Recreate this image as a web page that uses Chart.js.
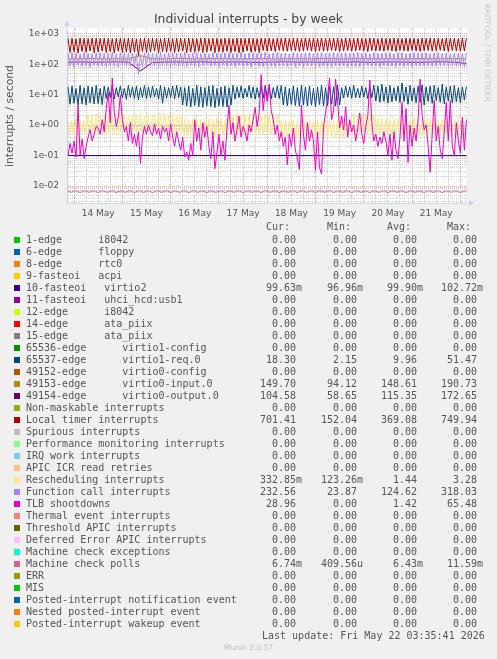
<!DOCTYPE html>
<html>
<head>
<meta charset="utf-8">
<title>Individual interrupts - by week</title>
<script src="https://cdn.jsdelivr.net/npm/chart.js@4.4.1/dist/chart.umd.min.js"></script>
<style>
  body { margin: 0; background: #f0f0f0; }
  #wrap { position: relative; width: 497px; height: 659px; overflow: hidden; background: #f0f0f0; }
  #chart { position: absolute; left: 0; top: 0; }
  .txt { position: absolute; white-space: pre; }
  #title { left: 0; top: 11px; width: 497px; text-align: center; font: 12.4px 'DejaVu Sans'; line-height: 16px; color: #444; }
  #ylabel { left: -90px; top: 108.6px; width: 200px; text-align: center; font: 10.8px 'DejaVu Sans'; line-height: 14px; color: #555; transform: rotate(-90deg); }
  #brand { left: 427px; top: 48px; width: 120px; text-align: center; font: 7.6px 'DejaVu Sans'; line-height: 10px; color: #c4c4c4; transform: rotate(90deg); }
  .mono { font: 10px 'DejaVu Sans Mono'; line-height: 12px; color: #555; }
  .sw { position: absolute; width: 6px; height: 6px; }
  #munin { left: 0; top: 643px; width: 497px; text-align: center; font: 7.5px 'DejaVu Sans'; line-height: 10px; color: #c0c0c0; }
</style>
</head>
<body>
<div id="wrap">
  <canvas id="chart" width="497" height="225"></canvas>
  <div id="title" class="txt">Individual interrupts - by week</div>
  <div id="ylabel" class="txt">interrupts / second</div>
  <div id="brand" class="txt">RRDTOOL / TOBI OETIKER</div>
  <div id="legend"></div>
  <div id="munin" class="txt">Munin 2.0.57</div>
</div>
<script>
// legend rows (same order as munin prints them)
const rowNames = [
  '1-edge      i8042', '6-edge      floppy', '8-edge      rtc0', '9-fasteoi   acpi',
  '10-fasteoi   virtio2', '11-fasteoi   uhci_hcd:usb1', '12-edge      i8042',
  '14-edge      ata_piix', '15-edge      ata_piix', '65536-edge      virtio1-config',
  '65537-edge      virtio1-req.0', '49152-edge      virtio0-config',
  '49153-edge      virtio0-input.0', '49154-edge      virtio0-output.0',
  'Non-maskable interrupts', 'Local timer interrupts', 'Spurious interrupts',
  'Performance monitoring interrupts', 'IRQ work interrupts', 'APIC ICR read retries',
  'Rescheduling interrupts', 'Function call interrupts', 'TLB shootdowns',
  'Thermal event interrupts', 'Threshold APIC interrupts', 'Deferred Error APIC interrupts',
  'Machine check exceptions', 'Machine check polls', 'ERR', 'MIS',
  'Posted-interrupt notification event', 'Nested posted-interrupt event',
  'Posted-interrupt wakeup event'
];
const rowColors = [
  '#00CC00', '#0066B3', '#FF8000', '#FFCC00', '#330099', '#990099', '#CCFF00', '#FF0000',
  '#808080', '#008F00', '#00487D', '#B35A00', '#B38F00', '#6B006B', '#8FB300', '#B30000',
  '#BEBEBE', '#80FF80', '#80C9FF', '#FFC080', '#FFE680', '#AA80FF', '#EE00CC', '#FF8080',
  '#666600', '#FFBFFF', '#00FFCC', '#CC6699', '#999900', '#00CC00', '#0066B3', '#FF8000',
  '#FFCC00'
];
const curVals = ['0.00','0.00','0.00','0.00','99.63m','0.00','0.00','0.00','0.00','0.00','18.30','0.00',
  '149.70','104.58','0.00','701.41','0.00','0.00','0.00','0.00','332.85m','232.56','28.96','0.00',
  '0.00','0.00','0.00','6.74m','0.00','0.00','0.00','0.00','0.00'];
const minVals = ['0.00','0.00','0.00','0.00','96.96m','0.00','0.00','0.00','0.00','0.00','2.15','0.00',
  '94.12','58.65','0.00','152.04','0.00','0.00','0.00','0.00','123.26m','23.87','0.00','0.00',
  '0.00','0.00','0.00','409.56u','0.00','0.00','0.00','0.00','0.00'];
const avgVals = ['0.00','0.00','0.00','0.00','99.90m','0.00','0.00','0.00','0.00','0.00','9.96','0.00',
  '148.61','115.35','0.00','369.08','0.00','0.00','0.00','0.00','1.44','124.62','1.42','0.00',
  '0.00','0.00','0.00','6.43m','0.00','0.00','0.00','0.00','0.00'];
const maxVals = ['0.00','0.00','0.00','0.00','102.72m','0.00','0.00','0.00','0.00','0.00','51.47','0.00',
  '190.73','172.65','0.00','749.94','0.00','0.00','0.00','0.00','3.28','318.03','65.48','0.00',
  '0.00','0.00','0.00','11.59m','0.00','0.00','0.00','0.00','0.00'];
const lastUpdate = 'Last update: Fri May 22 03:35:41 2026';

// x axis: hours from 14 May 00:00
const xMin = -3.5, xMax = 195.3;
const dayTickLabels = ['14 May', '15 May', '16 May', '17 May', '18 May', '19 May', '20 May', '21 May'];

// series (hourly unless noted)
const timerVals = [
  690,240,705,255,680,230,715,260,700,245,690,270,720,235,705,250,695,265,710,240,
  700,255,685,230,715,265,700,240,690,250,720,235,705,250,680,190,700,260,715,240,
  695,250,710,265,700,235,690,255,720,245,705,260,685,240,710,250,700,270,690,235,
  715,255,700,245,690,260,705,240,720,250,695,265,710,235,700,255,685,245,715,260,
  700,240,690,255,710,235,705,250,695,270,720,245,700,260,690,240,710,280,700,265,
  715,275,690,260,705,285,700,270,720,265,695,280,710,270,700,260,690,275,715,285,
  700,270,705,260,690,280,720,265,700,275,695,285,710,270,705,260,690,275,715,280,
  700,265,690,275,710,285,700,270,695,260,720,280,705,270,690,275,710,265,700,285,
  695,270,715,260,700,280,690,275,710,265,705,285,700,270,690,260,715,275,700,280,
  710,265,695,275,700,285,690,270,715,260,705,280,700,275,690,265,710,270,701
];
const funcCallVals = [
  225,88,240,82,230,95,215,85,245,90,230,80,220,92,235,85,240,88,225,82,
  230,90,245,85,220,80,235,92,240,86,225,84,230,88,215,45,200,82,235,90,
  240,85,225,88,230,82,245,90,220,86,235,80,240,92,225,85,230,88,245,84,
  220,90,235,86,240,82,225,88,230,95,215,85,240,90,230,80,225,92,235,85,
  240,88,225,82,230,90,245,85,220,88,235,80,240,92,225,86,230,84,245,90,
  220,86,235,82,240,88,225,90,230,85,215,92,240,84,230,88,225,82,235,90,
  238,87,222,90,232,84,242,88,218,85,236,82,244,90,228,86,226,90,240,83,
  224,88,232,85,244,84,222,90,234,92,218,86,238,88,232,82,228,90,236,86,
  242,86,220,84,232,88,240,83,224,90,230,82,238,90,228,88,234,86,240,88,
  222,84,236,85,238,90,228,88,232,84,218,90,236,86,230,86,226,84,233
];
const virtio1ReqVals = [
  18,4.8,19,5.2,16,4.5,20,5.0,17,4.6,19,5.4,18,4.9,20,5.1,16,4.7,19,7.5,
  18,8.0,20,7.2,17,8.5,19,7.8,16,7.0,20,8.2,18,7.5,19,6.8,17,8.0,20,7.4,
  18,7.8,19,8.4,16,7.1,20,5.2,18,7.6,17,8.0,19,7.3,20,7.9,18,4.5,17,4.2,
  19,3.9,16,4.4,20,4.0,18,3.8,17,4.3,19,4.1,20,3.7,16,4.2,18,4.0,19,3.9,
  17,4.5,20,7.2,18,8.0,19,7.5,16,8.3,20,7.7,18,7.1,17,8.1,19,7.6,20,8.4,
  18,7.3,17,8.0,19,7.5,20,4.6,18,4.3,16,4.8,19,4.4,17,4.1,20,4.6,18,4.2,
  19,4.5,16,4.0,18,4.7,20,4.3,17,4.4,19,4.9,18,4.2,20,4.6,17,7.8,19,8.3,
  18,7.6,20,8.1,16,7.9,19,8.4,17,7.4,18,8.0,20,6.2,19,5.6,22,6.0,18,5.3,
  20,5.8,17,6.3,19,5.5,24,5.9,18,4.8,20,6.1,17,5.4,19,5.7,21,4.6,18,6.0,
  19,5.2,20,6.4,17,5.6,22,5.0,18,6.2,19,5.3,20,5.9,17,5.5,18,6.8,18.3
];
const reschedVals = [
  1.5,0.45,1.4,0.5,1.6,0.42,1.5,0.48,1.5,0.5,2.2,0.55,2.1,0.48,2.3,0.52,2.2,0.5,2.1,0.46,
  2.2,0.53,2.3,0.5,2.1,0.47,2.2,0.55,2.3,0.5,2.1,0.52,2.2,0.48,2.3,0.5,2.2,0.54,2.1,0.49,
  2.2,0.51,2.3,0.47,2.2,0.53,2.1,0.5,2.3,0.48,2.2,0.52,2.1,0.5,2.2,0.47,2.2,0.45,1.6,0.42,
  1.5,0.47,1.6,0.44,1.7,0.46,1.5,0.43,1.6,0.48,1.6,0.45,1.5,0.42,1.7,0.46,1.6,0.44,1.5,0.47,
  2.3,0.5,2.2,0.53,2.4,0.48,2.3,0.52,2.2,0.5,2.3,0.55,2.4,0.49,2.2,0.51,2.3,0.48,2.3,0.53,
  2.2,0.5,2.4,0.47,2.3,0.42,1.5,0.4,1.4,0.38,1.6,0.41,1.5,0.36,1.4,0.4,1.5,0.39,1.6,0.37,
  1.5,0.41,1.4,0.38,1.5,0.4,1.6,0.35,1.5,0.39,1.4,0.42,1.5,0.37,1.6,0.4,1.5,0.38,1.4,0.41,
  1.5,0.39,2.3,0.5,2.2,0.52,2.4,0.48,2.3,0.5,2.2,0.53,2.3,0.49,1.6,0.45,1.7,0.43,1.6,0.46,
  1.5,0.44,1.6,0.47,1.7,0.42,1.6,0.45,1.5,0.48,1.6,0.44,1.7,0.46,1.6,0.43,1.5,0.47,1.6,0.45,
  1.7,0.42,1.6,0.46,1.5,0.44,1.6,0.47,1.7,0.43,1.6,0.45,1.5,0.48,1.6,0.44,1.7,0.42,0.333
];
const tlbVals = [
  0.1,0.25,0.12,0.3,0.09,4.5,0.1,0.35,0.08,0.2,0.4,0.7,0.3,0.5,0.9,0.8,0.5,1.5,0.6,3.5,
  12,1.2,35,2.5,0.9,1.8,9.5,1.5,0.6,0.9,0.3,1.2,0.25,0.5,0.2,0.6,0.055,0.4,0.9,0.5,
  1.0,0.6,0.45,1.1,0.5,0.8,0.35,0.9,0.6,0.8,0.3,1.1,0.4,0.2,0.6,0.3,0.15,0.4,0.09,0.13,
  0.07,0.25,0.1,1.5,0.3,0.8,0.15,1.2,0.4,0.9,0.2,0.08,0.6,0.037,0.12,0.5,0.1,0.3,0.07,0.8,
  4.5,0.5,1.2,0.3,0.7,2.0,0.4,0.9,0.6,0.3,1.0,0.6,1.5,3.8,0.9,2.5,45,3,15,6,
  22,3,1.5,0.5,1.0,0.3,0.6,0.2,0.4,0.05,0.5,0.2,0.8,0.15,0.08,0.035,4.5,0.5,0.15,1.2,
  0.3,0.7,0.3,0.033,0.6,0.04,0.025,0.9,2.5,8,35,1.5,3,32,6,0.8,2,0.7,4,0.4,
  1.5,0.6,1.0,0.3,0.8,2.5,0.5,0.25,0.9,2,30,1.2,0.3,0.5,0.2,0.4,0.25,0.6,0.3,0.1,
  0.5,0.07,0.6,0.15,0.08,0.4,5.5,0.3,3.5,0.06,1.0,0.2,0.8,0.3,1.5,32,2.0,0.7,1.0,0.2,
  0.028,0.5,6.5,0.3,0.9,0.15,0.08,0.6,5.5,0.3,6.5,0.2,0.1,1.2,0.3,0.12,1.8,0.15,1.5
];
// 22 h steps
const virtio2Vals = [0.0999, 0.1, 0.0998, 0.1001, 0.0999, 0.1, 0.0998, 0.1, 0.0997, 0.0996];
// 6 h steps
const virtio0InVals = [
  148,150,152,149,151,147,190,150,149,152,150,148,153,151,149,150,152,
  148,150,151,149,153,150,148,152,149,151,150,148,152,149,151,150,150
];
const virtio0OutVals = [
  116,118,115,117,119,116,60,114,117,118,116,119,115,117,118,116,114,
  117,119,116,118,115,117,116,119,114,117,118,116,115,117,119,116,105
];
// 1.5 h steps
const mcPollVals = [
  0.0068,0.0062,0.0069,0.0068,0.0061,0.0068,0.0069,0.0062,0.0068,0.0068,0.0061,0.0069,0.0068,0.0062,0.0068,0.0069,0.0061,0.0068,0.0068,0.0062,
  0.0069,0.0068,0.0061,0.0068,0.0069,0.0062,0.0068,0.0068,0.0061,0.0069,0.0068,0.0062,0.0068,0.0069,0.0061,0.0068,0.0068,0.0062,0.0069,0.0068,
  0.0061,0.0068,0.0069,0.0062,0.0068,0.0068,0.0061,0.0069,0.0068,0.0062,0.0068,0.0069,0.0061,0.0068,0.0068,0.0062,0.0069,0.0068,0.0061,0.0068,
  0.0069,0.0062,0.0068,0.0068,0.0061,0.0069,0.0068,0.0062,0.0068,0.0069,0.0061,0.0068,0.0068,0.0062,0.0069,0.0068,0.0061,0.0068,0.0069,0.0062,
  0.0068,0.0068,0.0061,0.0069,0.0068,0.0062,0.0068,0.0069,0.0061,0.0068,0.0068,0.0062,0.0069,0.0068,0.0061,0.0068,0.0069,0.0062,0.0068,0.0068,
  0.0061,0.0069,0.0068,0.0062,0.0068,0.0069,0.0061,0.0068,0.0068,0.0062,0.0069,0.0068,0.0061,0.0068,0.0069,0.0062,0.0068,0.0068,0.0061,0.0069,
  0.0068,0.0062,0.0068,0.0069,0.0061,0.0068,0.0068,0.0062,0.0069,0.0068,0.0061,0.0068,0.0067
];

// which legend rows get a line, and the time step of their samples
const plotted = [
  { row: 4, vals: virtio2Vals, step: 22 },
  { row: 10, vals: virtio1ReqVals, step: 1 },
  { row: 12, vals: virtio0InVals, step: 6 },
  { row: 13, vals: virtio0OutVals, step: 6 },
  { row: 15, vals: timerVals, step: 1 },
  { row: 20, vals: reschedVals, step: 1 },
  { row: 21, vals: funcCallVals, step: 1 },
  { row: 22, vals: tlbVals, step: 1 },
  { row: 27, vals: mcPollVals, step: 1.5 }
];
const seriesStart = -3;

const isDecade = v => {
  if (!v) return false;
  const l = Math.log10(v);
  return Math.abs(l - Math.round(l)) < 1e-6;
};

const majorGrid = 'rgba(240,90,90,0.55)';
const minorGrid = 'rgba(170,170,170,0.5)';

const plotBg = {
  id: 'plotBg',
  beforeDraw(chart) {
    const { ctx, chartArea: a } = chart;
    ctx.save();
    ctx.fillStyle = '#ffffff';
    ctx.fillRect(a.left, a.top, a.right - a.left, a.bottom - a.top);
    ctx.restore();
  },
  afterDraw(chart) {
    // little axis arrows like rrdtool
    const { ctx, chartArea: a } = chart;
    ctx.save();
    ctx.fillStyle = '#c8d0f0';
    ctx.beginPath();
    ctx.moveTo(a.left - 3, a.top - 2);
    ctx.lineTo(a.left + 3, a.top - 2);
    ctx.lineTo(a.left, a.top - 7);
    ctx.fill();
    ctx.beginPath();
    ctx.moveTo(a.right + 2, a.bottom - 3);
    ctx.lineTo(a.right + 2, a.bottom + 3);
    ctx.lineTo(a.right + 7, a.bottom);
    ctx.fill();
    ctx.restore();
  }
};

Chart.defaults.font.family = "'DejaVu Sans'";

new Chart(document.getElementById('chart'), {
  type: 'line',
  data: {
    datasets: plotted.map(p => ({
      label: rowNames[p.row],
      data: p.vals.map((v, i) => ({ x: seriesStart + i * p.step, y: v })),
      borderColor: rowColors[p.row],
      backgroundColor: rowColors[p.row],
      borderWidth: 1,
      pointRadius: 0,
      tension: 0,
      fill: false,
      order: -p.row
    }))
  },
  options: {
    responsive: false,
    animation: false,
    devicePixelRatio: 1,
    layout: { padding: { top: 28, right: 30, left: 0, bottom: 0 } },
    plugins: {
      legend: { display: false },
      title: { display: false },
      tooltip: { enabled: false }
    },
    scales: {
      x: {
        type: 'linear',
        min: xMin,
        max: xMax,
        afterFit: s => { s.height = 22; },
        afterBuildTicks: s => {
          const t = [];
          for (let h = 0; h <= xMax; h += 6) t.push({ value: h });
          s.ticks = t;
        },
        ticks: {
          autoSkip: false,
          maxRotation: 0,
          minRotation: 0,
          padding: 5,
          color: '#555',
          font: { size: 9 },
          callback: v => (v % 24 === 12 ? dayTickLabels[(v - 12) / 24] || '' : '')
        },
        grid: {
          drawTicks: false,
          lineWidth: 1,
          color: c => (c.tick && c.tick.value % 24 === 0 ? majorGrid : minorGrid)
        },
        border: { display: true, color: '#d6d6e6', width: 1, dash: [1, 1] }
      },
      y: {
        type: 'logarithmic',
        min: Math.pow(10, -2.558),
        max: Math.pow(10, 3.187),
        afterFit: s => { s.width = 67; },
        afterBuildTicks: s => {
          const t = [];
          for (let e = -3; e <= 3; e++) {
            for (let k = 1; k <= 9; k++) {
              const v = k * Math.pow(10, e);
              if (v >= s.min && v <= s.max) t.push({ value: v });
            }
          }
          s.ticks = t;
        },
        ticks: {
          autoSkip: false,
          padding: 8,
          color: '#555',
          font: { size: 9 },
          callback: v => {
            if (!isDecade(v)) return '';
            const e = Math.round(Math.log10(v));
            return '1e' + (e < 0 ? '-' : '+') + String(Math.abs(e)).padStart(2, '0');
          }
        },
        grid: {
          drawTicks: false,
          lineWidth: 1,
          color: c => (c.tick && isDecade(c.tick.value) ? majorGrid : minorGrid)
        },
        border: { display: true, color: '#c8d0f0', width: 1, dash: [1, 1] }
      }
    }
  },
  plugins: [plotBg]
});

// munin style legend table
const legend = document.getElementById('legend');
const colX = [260, 321, 381, 441];
const fmt = s => {
  const suf = /[mu]$/.test(s) ? s.slice(-1) : '';
  return (suf ? s.slice(0, -1) : s).padStart(6, ' ') + suf;
};
function addText(txt, x, y) {
  const d = document.createElement('div');
  d.className = 'txt mono';
  d.style.left = x + 'px';
  d.style.top = y + 'px';
  d.textContent = txt;
  legend.appendChild(d);
}
['Cur:', 'Min:', 'Avg:', 'Max:'].forEach((h, j) => addText(' ' + h, colX[j], 221));
rowNames.forEach((name, i) => {
  const top = 234 + i * 12;
  const sw = document.createElement('div');
  sw.className = 'sw';
  sw.style.left = '14px';
  sw.style.top = (top + 3) + 'px';
  sw.style.background = rowColors[i];
  legend.appendChild(sw);
  addText(name, 26, top);
  [curVals, minVals, avgVals, maxVals].forEach((arr, j) => addText(fmt(arr[i]), colX[j], top));
});
addText(lastUpdate, 262, 630);
</script>
</body>
</html>
